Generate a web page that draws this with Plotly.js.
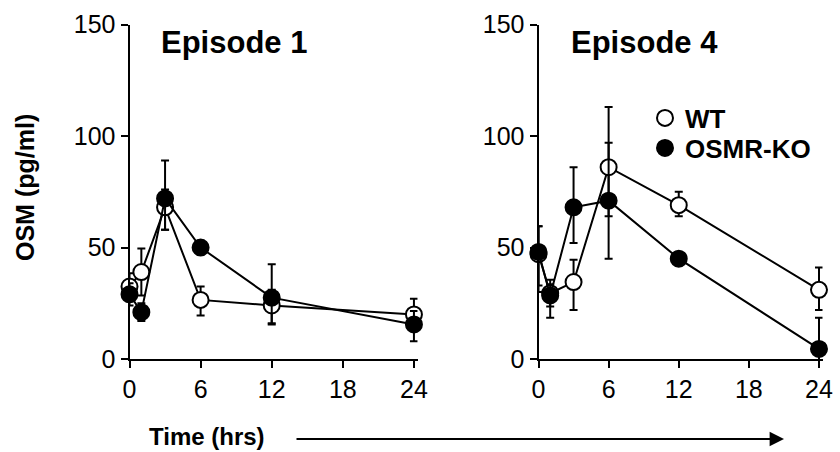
<!DOCTYPE html>
<html>
<head>
<meta charset="utf-8">
<script src="https://cdn.plot.ly/plotly-3.0.1.min.js"></script>
<style>html,body{margin:0;padding:0;background:#fff;}#chart{width:840px;height:452px;}</style>
</head>
<body>
<div id="chart"></div>
<script>
// ---- data ----
const hours = [0, 1, 3, 6, 12, 24];
const xTicks = [0, 6, 12, 18, 24];
const yTicks = [0, 50, 100, 150];

// Episode 1
const ep1WT = [32.5, 39, 68, 26.5, 24, 20];
const ep1WTerrUp = [6, 10.5, 8, 6, 7, 7];
const ep1WTerrDown = [6, 10.5, 10, 7, 8, 7];
const ep1KO = [29, 21, 72, 50, 27.5, 15.5];
const ep1KOerrUp = [5, 4, 17, 3, 15, 6];
const ep1KOerrDown = [5, 4, 14, 3, 12, 7.5];

// Episode 4
const ep4WT = [47, 29.5, 34.5, 86, 69, 31];
const ep4WTerrUp = [12.5, 6, 10, 27, 6, 10];
const ep4WTerrDown = [14, 6, 12.5, 22, 5, 9];
const ep4KO = [48, 28.5, 68, 71, 45, 4.5];
const ep4KOerrUp = [11.5, 5, 18, 26, 3, 14];
const ep4KOerrDown = [18, 10, 16, 26, 3, 5];

const seriesNames = ['WT', 'OSMR-KO'];
const panelTitles = ['Episode 1', 'Episode 4'];
const yTitle = 'OSM (pg/ml)';
const xTitle = 'Time (hrs)';

// ---- styles ----
const FONT = 'Arial, "Liberation Sans", sans-serif';
const openMarker = {symbol: 'circle', size: 16, color: '#fff', line: {color: '#000', width: 2}};
const filledMarker = {symbol: 'circle', size: 16, color: '#000', line: {color: '#000', width: 2}};

function series(x, y, up, down, marker, xa, ya) {
  return {
    type: 'scatter', mode: 'lines+markers', x: x, y: y,
    xaxis: xa, yaxis: ya, showlegend: false, cliponaxis: false,
    line: {color: '#000', width: 2},
    marker: marker,
    error_y: {type: 'data', symmetric: false, array: up, arrayminus: down,
              color: '#000', thickness: 2, width: 4}
  };
}

const data = [
  series(hours, ep1WT, ep1WTerrUp, ep1WTerrDown, openMarker, 'x', 'y'),
  series(hours, ep1KO, ep1KOerrUp, ep1KOerrDown, filledMarker, 'x', 'y'),
  series(hours, ep4WT, ep4WTerrUp, ep4WTerrDown, openMarker, 'x2', 'y2'),
  series(hours, ep4KO, ep4KOerrUp, ep4KOerrDown, filledMarker, 'x2', 'y2'),
  {type: 'scatter', mode: 'markers', x: [null], y: [null], name: seriesNames[0],
   marker: openMarker, xaxis: 'x2', yaxis: 'y2', legend: 'legend'},
  {type: 'scatter', mode: 'markers', x: [null], y: [null], name: seriesNames[1],
   marker: filledMarker, xaxis: 'x2', yaxis: 'y2', legend: 'legend2'}
];

function xaxis(domain, anchor) {
  return {
    domain: domain, anchor: anchor, range: [0, 24.3],
    tickvals: xTicks, ticktext: xTicks.map(String),
    showline: true, linecolor: '#000', linewidth: 2,
    ticks: 'outside', ticklen: 7, tickwidth: 2, tickcolor: '#000',
    showgrid: false, zeroline: false,
    tickfont: {family: FONT, size: 25, color: '#000'}
  };
}
function yaxis(domain, anchor) {
  return {
    domain: domain, anchor: anchor, range: [0, 150],
    tickvals: yTicks, ticktext: yTicks.map(String),
    showline: true, linecolor: '#000', linewidth: 2,
    ticks: 'outside', ticklen: 7, tickwidth: 2, tickcolor: '#000',
    showgrid: false, zeroline: false,
    tickfont: {family: FONT, size: 25, color: '#000'}
  };
}

function legendAt(yPix) {
  return {
    x: 645 / 840, y: 1 - yPix / 452, xanchor: 'left', yanchor: 'middle',
    bgcolor: 'rgba(0,0,0,0)', borderwidth: 0,
    font: {family: FONT, size: 26, color: '#000', weight: 'bold'},
    itemwidth: 30
  };
}

const yDom = [1 - 359 / 452, 1 - 24.5 / 452];
const layout = {
  width: 840, height: 452,
  margin: {l: 0, r: 0, t: 0, b: 0},
  paper_bgcolor: '#fff', plot_bgcolor: 'rgba(0,0,0,0)',
  xaxis: xaxis([129.5 / 840, 417.5 / 840], 'y'),
  yaxis: yaxis(yDom, 'x'),
  xaxis2: xaxis([538.5 / 840, 822.5 / 840], 'y2'),
  yaxis2: yaxis(yDom, 'x2'),
  showlegend: true,
  legend: legendAt(118),
  legend2: legendAt(148),
  annotations: [
    {text: '<b>' + panelTitles[0] + '</b>', xref: 'paper', yref: 'paper',
     x: 234 / 840, y: 1 - 43 / 452, showarrow: false, xanchor: 'center', yanchor: 'middle',
     font: {family: FONT, size: 31, color: '#000'}},
    {text: '<b>' + panelTitles[1] + '</b>', xref: 'paper', yref: 'paper',
     x: 644 / 840, y: 1 - 43 / 452, showarrow: false, xanchor: 'center', yanchor: 'middle',
     font: {family: FONT, size: 31, color: '#000'}},
    {text: '<b>' + yTitle + '</b>', xref: 'paper', yref: 'paper',
     x: 25 / 840, y: 1 - 188 / 452, showarrow: false, textangle: -90,
     xanchor: 'center', yanchor: 'middle',
     font: {family: FONT, size: 25, color: '#000'}},
    {text: '<b>' + xTitle + '</b>', xref: 'paper', yref: 'paper',
     x: 207 / 840, y: 1 - 436 / 452, showarrow: false,
     xanchor: 'center', yanchor: 'middle',
     font: {family: FONT, size: 24, color: '#000'}},
    {text: '', xref: 'paper', yref: 'paper', axref: 'pixel', ayref: 'pixel',
     x: 784 / 840, y: 1 - 439 / 452, ax: -489, ay: 0, showarrow: true,
     arrowhead: 2, arrowsize: 1.6, arrowwidth: 1.8, arrowcolor: '#000', standoff: 0}
  ]
};

Plotly.newPlot('chart', data, layout, {displayModeBar: false, staticPlot: true});
</script>
</body>
</html>
